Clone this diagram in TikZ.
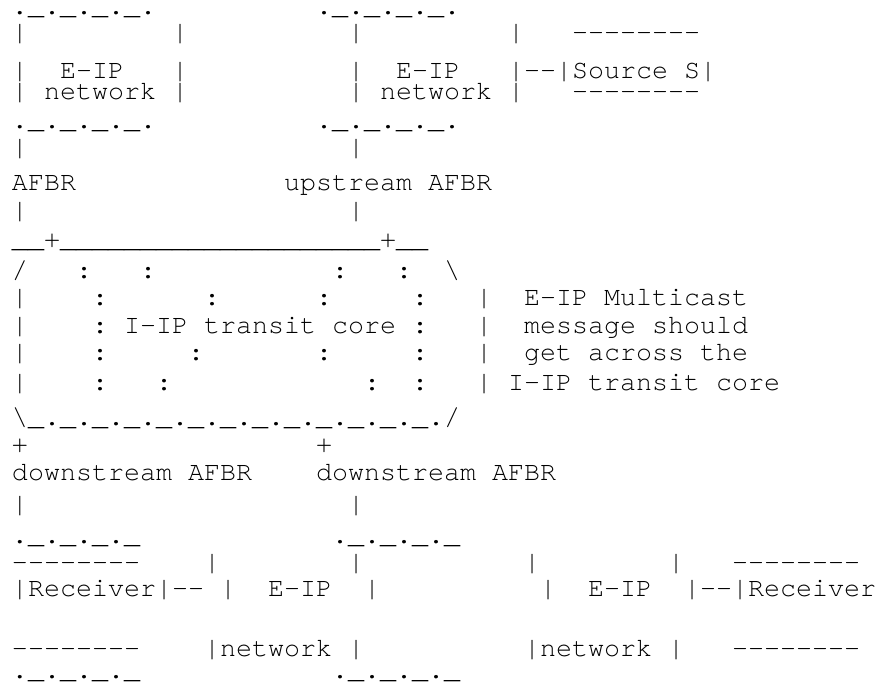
\documentclass[tikz,border=0pt]{standalone}
\usepackage{fontspec}
\newfontfamily\af{texgyrecursor-regular.otf}
\tikzset{txt/.style={anchor=base west, inner sep=0pt, outer sep=0pt, text=black,
  font=\af\fontsize{26.67}{30}\selectfont}}
\newcommand\Tx[4]{\node[txt] (#1) at ({12+16*#2},{-#3}) {#4};}
\begin{document}
\begin{tikzpicture}[x=1pt,y=1pt]
\useasboundingbox (0,0) rectangle (892,-694);
% row 1
\Tx{r1a}{0}{14}{.\_.\_.\_.\_.}
\Tx{r1b}{19}{14}{.\_.\_.\_.\_.}
% row 2
\Tx{r2a}{0}{40}{|}
\Tx{r2b}{10}{40}{|}
\Tx{r2c}{21}{40}{|}
\Tx{r2d}{31}{40}{|}
\Tx{r2e}{35}{40}{--------}
% row 3
\Tx{r3a}{0}{78}{|}
\Tx{r3b}{3}{78}{E-IP}
\Tx{r3c}{10}{78}{|}
\Tx{r3d}{21}{78}{|}
\Tx{r3e}{24}{78}{E-IP}
\Tx{r3f}{31}{78}{|--|Source}
\Tx{r3g}{42}{78}{S|}
% row 4
\Tx{r4a}{0}{99}{|}
\Tx{r4b}{2}{99}{network}
\Tx{r4c}{10}{99}{|}
\Tx{r4d}{21}{99}{|}
\Tx{r4e}{23}{99}{network}
\Tx{r4f}{31}{99}{|}
\Tx{r4g}{35}{99}{--------}
% row 5
\Tx{r5a}{0}{128}{.\_.\_.\_.\_.}
\Tx{r5b}{19}{128}{.\_.\_.\_.\_.}
% row 6
\Tx{r6a}{0}{155}{|}
\Tx{r6b}{21}{155}{|}
% row 7
\Tx{r7a}{0}{190}{AFBR}
\Tx{r7b}{17}{190}{upstream}
\Tx{r7c}{26}{190}{AFBR}
% row 8
\Tx{r8a}{0}{218}{|}
\Tx{r8b}{21}{218}{|}
% row 9
\Tx{r9}{0}{247}{\_\_+\_\_\_\_\_\_\_\_\_\_\_\_\_\_\_\_\_\_\_\_+\_\_}
% row 10
\Tx{r10a}{0}{278}{/}
\Tx{r10b}{4}{278}{:}
\Tx{r10c}{8}{278}{:}
\Tx{r10d}{20}{278}{:}
\Tx{r10e}{24}{278}{:}
\Tx{r10f}{27}{278}{\textbackslash}
% row 11
\Tx{r11a}{0}{305}{|}
\Tx{r11b}{5}{305}{:}
\Tx{r11c}{12}{305}{:}
\Tx{r11d}{19}{305}{:}
\Tx{r11e}{25}{305}{:}
\Tx{r11f}{29}{305}{|}
\Tx{r11g}{32}{305}{E-IP}
\Tx{r11h}{37}{305}{Multicast}
% row 12
\Tx{r12a}{0}{333}{|}
\Tx{r12b}{5}{333}{:}
\Tx{r12c}{7}{333}{I-IP}
\Tx{r12d}{12}{333}{transit}
\Tx{r12e}{20}{333}{core}
\Tx{r12f}{25}{333}{:}
\Tx{r12g}{29}{333}{|}
\Tx{r12h}{32}{333}{message}
\Tx{r12i}{40}{333}{should}
% row 13
\Tx{r13a}{0}{360}{|}
\Tx{r13b}{5}{360}{:}
\Tx{r13c}{11}{360}{:}
\Tx{r13d}{19}{360}{:}
\Tx{r13e}{25}{360}{:}
\Tx{r13f}{29}{360}{|}
\Tx{r13g}{32}{360}{get}
\Tx{r13h}{36}{360}{across}
\Tx{r13i}{43}{360}{the}
% row 14
\Tx{r14a}{0}{390}{|}
\Tx{r14b}{5}{390}{:}
\Tx{r14c}{9}{390}{:}
\Tx{r14d}{22}{390}{:}
\Tx{r14e}{25}{390}{:}
\Tx{r14f}{29}{390}{|}
\Tx{r14g}{31}{390}{I-IP}
\Tx{r14h}{36}{390}{transit}
\Tx{r14i}{44}{390}{core}
% row 15
\Tx{r15}{0}{425}{\textbackslash\_.\_.\_.\_.\_.\_.\_.\_.\_.\_.\_.\_.\_./}
% row 16
\Tx{r16a}{0}{452}{+}
\Tx{r16b}{19}{452}{+}
% row 17
\Tx{r17a}{0}{480}{downstream}
\Tx{r17b}{11}{480}{AFBR}
\Tx{r17c}{19}{480}{downstream}
\Tx{r17d}{30}{480}{AFBR}
% row 18
\Tx{r18a}{0}{512}{|}
\Tx{r18b}{21}{512}{|}
% row 19
\Tx{r19a}{0}{543}{.\_.\_.\_.\_}
\Tx{r19b}{20}{543}{.\_.\_.\_.\_}
% row 20
\Tx{r20a}{0}{570}{--------}
\Tx{r20b}{12}{570}{|}
\Tx{r20c}{21}{570}{|}
\Tx{r20d}{32}{570}{|}
\Tx{r20e}{41}{570}{|}
\Tx{r20f}{45}{570}{--------}
% row 21
\Tx{r21a}{0}{596}{|Receiver|--}
\Tx{r21b}{13}{596}{|}
\Tx{r21c}{16}{596}{E-IP}
\Tx{r21d}{22}{596}{|}
\Tx{r21e}{33}{596}{|}
\Tx{r21f}{36}{596}{E-IP}
\Tx{r21g}{42}{596}{|--|Receiver}
% row 22
\Tx{r22a}{0}{656}{--------}
\Tx{r22b}{12}{656}{|network}
\Tx{r22c}{21}{656}{|}
\Tx{r22d}{32}{656}{|network}
\Tx{r22e}{41}{656}{|}
\Tx{r22f}{45}{656}{--------}
% row 23
\Tx{r23a}{0}{678}{.\_.\_.\_.\_}
\Tx{r23b}{20}{678}{.\_.\_.\_.\_}
\end{tikzpicture}
\end{document}
